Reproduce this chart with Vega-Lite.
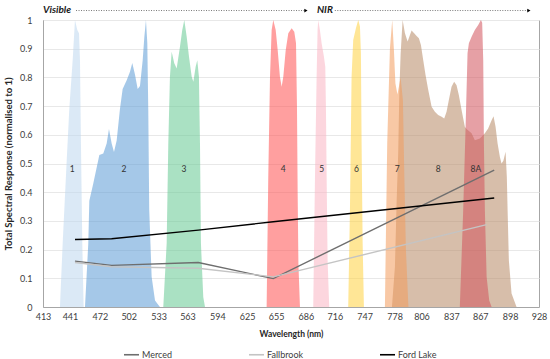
{
  "$schema": "https://vega.github.io/schema/vega-lite/v6.json",
  "width": 496,
  "height": 287,
  "autosize": {"type": "none"},
  "padding": {"left": 43, "top": 20, "right": 11, "bottom": 52},
  "config": {
    "font": "Lato",
    "view": {"stroke": "#a6a6a6", "strokeWidth": 1},
    "legend": {"padding": 0},
    "axisX": {
      "grid": false, "ticks": false, "domainColor": "#a6a6a6",
      "labelFontSize": 9, "labelColor": "#404040", "labelPadding": 5,
      "labelFlush": false, "labelOverlap": false,
      "titleFontSize": 8.5, "titleFontWeight": "bold", "titleColor": "#262626", "titlePadding": 8
    },
    "axisY": {
      "grid": true, "gridColor": "#e8e8e8",
      "ticks": false, "domainColor": "#a6a6a6",
      "labelFontSize": 9, "labelColor": "#404040", "labelPadding": 11, "labelFlush": false, "labelOverlap": false,
      "titleFontSize": 9.5, "titleFontWeight": "bold", "titleColor": "#262626", "titlePadding": 6
    }
  },
  "datasets": {
    "bands": [
      {"band": "1", "nm": 430.6, "r": 0},
      {"band": "1", "nm": 433.4, "r": 0.22},
      {"band": "1", "nm": 437.6, "r": 0.51},
      {"band": "1", "nm": 440.3, "r": 0.69},
      {"band": "1", "nm": 443.8, "r": 0.86},
      {"band": "1", "nm": 446.2, "r": 1.0},
      {"band": "1", "nm": 448.6, "r": 0.965},
      {"band": "1", "nm": 450.4, "r": 0.954},
      {"band": "1", "nm": 451.4, "r": 0.86},
      {"band": "1", "nm": 452.4, "r": 0.57},
      {"band": "1", "nm": 453.8, "r": 0.22},
      {"band": "1", "nm": 455.2, "r": 0},
      {"band": "2", "nm": 456.6, "r": 0},
      {"band": "2", "nm": 460.0, "r": 0.22},
      {"band": "2", "nm": 461.1, "r": 0.37},
      {"band": "2", "nm": 465.2, "r": 0.43},
      {"band": "2", "nm": 471.5, "r": 0.53},
      {"band": "2", "nm": 475.6, "r": 0.535},
      {"band": "2", "nm": 479.1, "r": 0.57},
      {"band": "2", "nm": 481.5, "r": 0.62},
      {"band": "2", "nm": 484.3, "r": 0.57},
      {"band": "2", "nm": 486.7, "r": 0.54},
      {"band": "2", "nm": 489.5, "r": 0.58},
      {"band": "2", "nm": 492.9, "r": 0.69},
      {"band": "2", "nm": 495.7, "r": 0.76},
      {"band": "2", "nm": 499.9, "r": 0.79},
      {"band": "2", "nm": 503.3, "r": 0.82},
      {"band": "2", "nm": 505.7, "r": 0.85},
      {"band": "2", "nm": 508.5, "r": 0.81},
      {"band": "2", "nm": 511.3, "r": 0.76},
      {"band": "2", "nm": 513.7, "r": 0.77},
      {"band": "2", "nm": 516.5, "r": 0.86},
      {"band": "2", "nm": 518.2, "r": 0.94},
      {"band": "2", "nm": 519.9, "r": 1.0},
      {"band": "2", "nm": 521.3, "r": 0.92},
      {"band": "2", "nm": 522.3, "r": 0.69},
      {"band": "2", "nm": 523.3, "r": 0.34},
      {"band": "2", "nm": 525.8, "r": 0.105},
      {"band": "2", "nm": 529.3, "r": 0.023},
      {"band": "2", "nm": 534.4, "r": 0},
      {"band": "3", "nm": 537.9, "r": 0},
      {"band": "3", "nm": 541.4, "r": 0.221},
      {"band": "3", "nm": 543.1, "r": 0.57},
      {"band": "3", "nm": 544.8, "r": 0.802},
      {"band": "3", "nm": 546.6, "r": 0.889},
      {"band": "3", "nm": 549.3, "r": 0.849},
      {"band": "3", "nm": 551.8, "r": 0.831},
      {"band": "3", "nm": 555.2, "r": 0.907},
      {"band": "3", "nm": 557.6, "r": 0.965},
      {"band": "3", "nm": 559.7, "r": 1.0},
      {"band": "3", "nm": 562.2, "r": 0.942},
      {"band": "3", "nm": 564.6, "r": 0.872},
      {"band": "3", "nm": 567.4, "r": 0.802},
      {"band": "3", "nm": 569.1, "r": 0.785},
      {"band": "3", "nm": 571.5, "r": 0.837},
      {"band": "3", "nm": 573.2, "r": 0.86},
      {"band": "3", "nm": 574.9, "r": 0.802},
      {"band": "3", "nm": 576.0, "r": 0.57},
      {"band": "3", "nm": 577.0, "r": 0.221},
      {"band": "3", "nm": 579.4, "r": 0.035},
      {"band": "3", "nm": 581.2, "r": 0},
      {"band": "4", "nm": 645.2, "r": 0},
      {"band": "4", "nm": 646.9, "r": 0.453},
      {"band": "4", "nm": 648.7, "r": 0.802},
      {"band": "4", "nm": 650.4, "r": 0.965},
      {"band": "4", "nm": 652.1, "r": 1.0},
      {"band": "4", "nm": 654.6, "r": 0.965},
      {"band": "4", "nm": 656.7, "r": 0.895},
      {"band": "4", "nm": 659.0, "r": 0.802},
      {"band": "4", "nm": 660.8, "r": 0.767},
      {"band": "4", "nm": 662.5, "r": 0.802},
      {"band": "4", "nm": 665.0, "r": 0.895},
      {"band": "4", "nm": 667.7, "r": 0.954},
      {"band": "4", "nm": 671.2, "r": 0.971},
      {"band": "4", "nm": 673.9, "r": 0.959},
      {"band": "4", "nm": 675.7, "r": 0.919},
      {"band": "4", "nm": 676.7, "r": 0.7},
      {"band": "4", "nm": 677.4, "r": 0.4},
      {"band": "4", "nm": 678.2, "r": 0.15},
      {"band": "4", "nm": 679.8, "r": 0},
      {"band": "5", "nm": 693.6, "r": 0},
      {"band": "5", "nm": 695.4, "r": 0.453},
      {"band": "5", "nm": 697.1, "r": 0.802},
      {"band": "5", "nm": 698.1, "r": 0.965},
      {"band": "5", "nm": 698.8, "r": 1.0},
      {"band": "5", "nm": 700.5, "r": 0.965},
      {"band": "5", "nm": 702.3, "r": 0.919},
      {"band": "5", "nm": 704.7, "r": 0.872},
      {"band": "5", "nm": 706.1, "r": 0.837},
      {"band": "5", "nm": 706.8, "r": 0.686},
      {"band": "5", "nm": 707.5, "r": 0.453},
      {"band": "5", "nm": 708.5, "r": 0.163},
      {"band": "5", "nm": 710.2, "r": 0},
      {"band": "6", "nm": 729.9, "r": 0},
      {"band": "6", "nm": 731.7, "r": 0.337},
      {"band": "6", "nm": 733.4, "r": 0.802},
      {"band": "6", "nm": 735.1, "r": 0.93},
      {"band": "6", "nm": 737.9, "r": 0.971},
      {"band": "6", "nm": 740.3, "r": 1.0},
      {"band": "6", "nm": 742.1, "r": 0.977},
      {"band": "6", "nm": 743.1, "r": 0.884},
      {"band": "6", "nm": 743.8, "r": 0.57},
      {"band": "6", "nm": 744.9, "r": 0.221},
      {"band": "6", "nm": 746.2, "r": 0},
      {"band": "8", "nm": 775.3, "r": 0},
      {"band": "8", "nm": 778.4, "r": 0.14},
      {"band": "8", "nm": 780.2, "r": 0.37},
      {"band": "8", "nm": 781.8, "r": 0.535},
      {"band": "8", "nm": 783.0, "r": 0.75},
      {"band": "8", "nm": 784.3, "r": 0.88},
      {"band": "8", "nm": 786.4, "r": 1.0},
      {"band": "8", "nm": 788.8, "r": 0.954},
      {"band": "8", "nm": 791.6, "r": 0.925},
      {"band": "8", "nm": 794.0, "r": 0.948},
      {"band": "8", "nm": 795.7, "r": 0.963},
      {"band": "8", "nm": 798.4, "r": 0.954},
      {"band": "8", "nm": 800.9, "r": 0.944},
      {"band": "8", "nm": 803.3, "r": 0.936},
      {"band": "8", "nm": 805.4, "r": 0.913},
      {"band": "8", "nm": 807.8, "r": 0.86},
      {"band": "8", "nm": 810.2, "r": 0.808},
      {"band": "8", "nm": 813.0, "r": 0.756},
      {"band": "8", "nm": 816.5, "r": 0.698},
      {"band": "8", "nm": 819.9, "r": 0.68},
      {"band": "8", "nm": 823.3, "r": 0.669},
      {"band": "8", "nm": 826.9, "r": 0.663},
      {"band": "8", "nm": 829.6, "r": 0.657},
      {"band": "8", "nm": 832.0, "r": 0.68},
      {"band": "8", "nm": 834.4, "r": 0.721},
      {"band": "8", "nm": 837.2, "r": 0.767},
      {"band": "8", "nm": 839.9, "r": 0.785},
      {"band": "8", "nm": 842.4, "r": 0.773},
      {"band": "8", "nm": 844.8, "r": 0.738},
      {"band": "8", "nm": 847.6, "r": 0.686},
      {"band": "8", "nm": 851.0, "r": 0.628},
      {"band": "8", "nm": 852.8, "r": 0.62},
      {"band": "8", "nm": 858.0, "r": 0.605},
      {"band": "8", "nm": 861.4, "r": 0.581},
      {"band": "8", "nm": 866.6, "r": 0.587},
      {"band": "8", "nm": 871.8, "r": 0.605},
      {"band": "8", "nm": 875.2, "r": 0.622},
      {"band": "8", "nm": 878.8, "r": 0.651},
      {"band": "8", "nm": 880.8, "r": 0.665},
      {"band": "8", "nm": 882.9, "r": 0.628},
      {"band": "8", "nm": 885.0, "r": 0.57},
      {"band": "8", "nm": 887.4, "r": 0.523},
      {"band": "8", "nm": 889.1, "r": 0.5},
      {"band": "8", "nm": 891.0, "r": 0.51},
      {"band": "8", "nm": 893.3, "r": 0.541},
      {"band": "8", "nm": 894.6, "r": 0.453},
      {"band": "8", "nm": 895.4, "r": 0.337},
      {"band": "8", "nm": 896.7, "r": 0.163},
      {"band": "8", "nm": 899.5, "r": 0.047},
      {"band": "8", "nm": 904.7, "r": 0},
      {"band": "7", "nm": 768.0, "r": 0},
      {"band": "7", "nm": 770.4, "r": 0.57},
      {"band": "7", "nm": 773.2, "r": 0.9},
      {"band": "7", "nm": 775.6, "r": 1.0},
      {"band": "7", "nm": 777.3, "r": 0.9},
      {"band": "7", "nm": 778.9, "r": 0.78},
      {"band": "7", "nm": 781.0, "r": 0.74},
      {"band": "7", "nm": 784.3, "r": 0.8},
      {"band": "7", "nm": 786.7, "r": 0.72},
      {"band": "7", "nm": 788.2, "r": 0.45},
      {"band": "7", "nm": 789.8, "r": 0.2},
      {"band": "7", "nm": 792.4, "r": 0},
      {"band": "8A", "nm": 845.8, "r": 0},
      {"band": "8A", "nm": 849.3, "r": 0.337},
      {"band": "8A", "nm": 851.8, "r": 0.628},
      {"band": "8A", "nm": 853.8, "r": 0.884},
      {"band": "8A", "nm": 855.2, "r": 0.919},
      {"band": "8A", "nm": 858.0, "r": 0.942},
      {"band": "8A", "nm": 861.4, "r": 0.965},
      {"band": "8A", "nm": 864.9, "r": 0.983},
      {"band": "8A", "nm": 867.7, "r": 1.0},
      {"band": "8A", "nm": 869.0, "r": 0.99},
      {"band": "8A", "nm": 870.1, "r": 0.86},
      {"band": "8A", "nm": 870.8, "r": 0.57},
      {"band": "8A", "nm": 871.8, "r": 0.337},
      {"band": "8A", "nm": 873.6, "r": 0.105},
      {"band": "8A", "nm": 876.3, "r": 0.023},
      {"band": "8A", "nm": 878.8, "r": 0}
    ],
    "labels": [
      {"band": "1", "nm": 443.4},
      {"band": "2", "nm": 497.1},
      {"band": "3", "nm": 559.4},
      {"band": "4", "nm": 662.4},
      {"band": "5", "nm": 702.3},
      {"band": "6", "nm": 738.6},
      {"band": "7", "nm": 780.8},
      {"band": "8", "nm": 823.3},
      {"band": "8A", "nm": 862.4}
    ],
    "sites": [
      {"site": "Merced", "nm": 446.2, "v": 0.16},
      {"site": "Merced", "nm": 484.3, "v": 0.145},
      {"site": "Merced", "nm": 574.2, "v": 0.155},
      {"site": "Merced", "nm": 652.1, "v": 0.099},
      {"site": "Merced", "nm": 881.5, "v": 0.477},
      {"site": "Fallbrook", "nm": 446.2, "v": 0.155},
      {"site": "Fallbrook", "nm": 484.3, "v": 0.14},
      {"site": "Fallbrook", "nm": 574.2, "v": 0.135},
      {"site": "Fallbrook", "nm": 652.1, "v": 0.105},
      {"site": "Fallbrook", "nm": 873.6, "v": 0.287},
      {"site": "Ford Lake", "nm": 446.2, "v": 0.235},
      {"site": "Ford Lake", "nm": 484.3, "v": 0.238},
      {"site": "Ford Lake", "nm": 574.2, "v": 0.268},
      {"site": "Ford Lake", "nm": 652.1, "v": 0.297},
      {"site": "Ford Lake", "nm": 881.5, "v": 0.38}
    ],
    "regions": [
      {"name": "Visible", "textAt": 413, "from": 447.3, "to": 686.0},
      {"name": "NIR", "textAt": 697.4, "from": 716.0, "to": 917.5}
    ]
  },
  "layer": [
    {
      "data": {"name": "bands"},
      "mark": {"type": "area", "fillOpacity": 0.55, "interpolate": "linear"},
      "encoding": {
        "x": {
          "field": "nm", "type": "quantitative",
          "scale": {"domain": [413, 928], "nice": false, "zero": false},
          "title": "Wavelength (nm)",
          "axis": {"values": [413, 441, 472, 502, 533, 563, 594, 625, 655, 686, 716, 747, 778, 806, 837, 867, 898, 928]}
        },
        "y": {
          "field": "r", "type": "quantitative", "stack": null,
          "scale": {"domain": [0, 1], "nice": false},
          "title": "Total Spectral Response (normalised to 1)",
          "axis": {"values": [0, 0.1, 0.2, 0.3, 0.4, 0.5, 0.6, 0.7, 0.8, 0.9, 1], "format": ".1~f"}
        },
        "fill": {
          "field": "band", "type": "nominal", "legend": null,
          "scale": {
            "domain": ["1", "2", "3", "4", "5", "6", "7", "8", "8A"],
            "range": ["#bdd7ee", "#5b9bd5", "#64c891", "#ff5050", "#f9b4c2", "#ffd23f", "#f29b5b", "#b68864", "#d1525b"]
          }
        }
      }
    },
    {
      "data": {"name": "labels"},
      "mark": {"type": "text", "fontSize": 8.5, "color": "#333333", "baseline": "middle"},
      "encoding": {
        "x": {"field": "nm", "type": "quantitative", "title": "Wavelength (nm)",
          "axis": {"values": [413, 441, 472, 502, 533, 563, 594, 625, 655, 686, 716, 747, 778, 806, 837, 867, 898, 928]}},
        "y": {"datum": 0.48, "type": "quantitative", "title": "Total Spectral Response (normalised to 1)",
          "axis": {"values": [0, 0.1, 0.2, 0.3, 0.4, 0.5, 0.6, 0.7, 0.8, 0.9, 1], "format": ".1~f"}},
        "text": {"field": "band"}
      }
    },
    {
      "data": {"name": "sites"},
      "mark": {"type": "line", "strokeWidth": 1.4},
      "encoding": {
        "x": {"field": "nm", "type": "quantitative", "title": "Wavelength (nm)",
          "axis": {"values": [413, 441, 472, 502, 533, 563, 594, 625, 655, 686, 716, 747, 778, 806, 837, 867, 898, 928]}},
        "y": {"field": "v", "type": "quantitative", "title": "Total Spectral Response (normalised to 1)",
          "axis": {"values": [0, 0.1, 0.2, 0.3, 0.4, 0.5, 0.6, 0.7, 0.8, 0.9, 1], "format": ".1~f"}},
        "stroke": {
          "field": "site", "type": "nominal",
          "scale": {"domain": ["Merced", "Fallbrook", "Ford Lake"], "range": ["#6e6e6e", "#c4c4c4", "#000000"]},
          "legend": {
            "title": null, "orient": "none", "direction": "horizontal",
            "legendX": 80, "legendY": 326,
            "symbolType": "stroke", "symbolSize": 225, "symbolStrokeWidth": 1.6,
            "labelFontSize": 9, "labelColor": "#404040", "labelOffset": 2,
            "columnPadding": 72
          }
        }
      }
    },
    {
      "data": {"name": "regions"},
      "mark": {"type": "rule", "strokeDash": [1, 1.5], "strokeWidth": 0.8, "color": "#555555"},
      "encoding": {
        "x": {"field": "from", "type": "quantitative", "title": "Wavelength (nm)",
          "axis": {"values": [413, 441, 472, 502, 533, 563, 594, 625, 655, 686, 716, 747, 778, 806, 837, 867, 898, 928]}},
        "x2": {"field": "to"},
        "y": {"datum": 1.033, "type": "quantitative", "title": "Total Spectral Response (normalised to 1)",
          "axis": {"values": [0, 0.1, 0.2, 0.3, 0.4, 0.5, 0.6, 0.7, 0.8, 0.9, 1], "format": ".1~f"}}
      }
    },
    {
      "data": {"name": "regions"},
      "mark": {"type": "point", "shape": "triangle-right", "filled": true, "size": 14, "color": "#000000", "opacity": 1},
      "encoding": {
        "x": {"field": "to", "type": "quantitative", "title": "Wavelength (nm)",
          "axis": {"values": [413, 441, 472, 502, 533, 563, 594, 625, 655, 686, 716, 747, 778, 806, 837, 867, 898, 928]}},
        "y": {"datum": 1.033, "type": "quantitative", "title": "Total Spectral Response (normalised to 1)",
          "axis": {"values": [0, 0.1, 0.2, 0.3, 0.4, 0.5, 0.6, 0.7, 0.8, 0.9, 1], "format": ".1~f"}}
      }
    },
    {
      "data": {"name": "regions"},
      "mark": {"type": "text", "align": "left", "baseline": "middle", "fontSize": 10, "fontWeight": "bold", "fontStyle": "italic", "color": "#1a1a1a"},
      "encoding": {
        "x": {"field": "textAt", "type": "quantitative", "title": "Wavelength (nm)",
          "axis": {"values": [413, 441, 472, 502, 533, 563, 594, 625, 655, 686, 716, 747, 778, 806, 837, 867, 898, 928]}},
        "y": {"datum": 1.035, "type": "quantitative", "title": "Total Spectral Response (normalised to 1)",
          "axis": {"values": [0, 0.1, 0.2, 0.3, 0.4, 0.5, 0.6, 0.7, 0.8, 0.9, 1], "format": ".1~f"}},
        "text": {"field": "name"}
      }
    }
  ]
}
